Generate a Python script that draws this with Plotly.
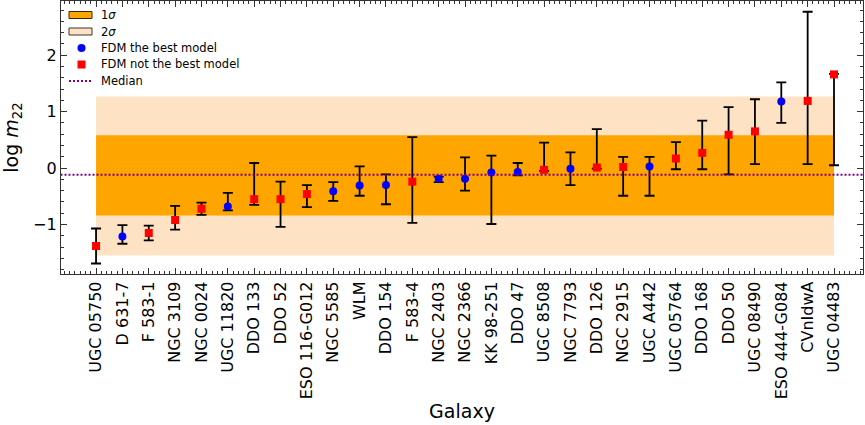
import plotly.graph_objects as go

galaxies = ["UGC 05750", "D 631-7", "F 583-1", "NGC 3109", "NGC 0024", "UGC 11820",
            "DDO 133", "DDO 52", "ESO 116-G012", "NGC 5585", "WLM", "DDO 154",
            "F 583-4", "NGC 2403", "NGC 2366", "KK 98-251", "DDO 47", "UGC 8508",
            "NGC 7793", "DDO 126", "NGC 2915", "UGC A442", "UGC 05764", "DDO 168",
            "DDO 50", "UGC 08490", "ESO 444-G084", "CVnIdwA", "UGC 04483"]
values = [-1.38, -1.21, -1.15, -0.92, -0.72, -0.68, -0.55, -0.55, -0.46, -0.41,
          -0.31, -0.30, -0.24, -0.19, -0.19, -0.08, -0.07, -0.03, -0.01, 0.01,
          0.02, 0.03, 0.17, 0.27, 0.59, 0.65, 1.18, 1.19, 1.66]
upper = [-1.07, -1.01, -1.02, -0.67, -0.61, -0.44, 0.09, -0.24, -0.30, -0.25,
         0.03, -0.11, 0.55, -0.15, 0.19, 0.22, 0.09, 0.45, 0.28, 0.69,
         0.20, 0.20, 0.46, 0.84, 1.08, 1.22, 1.52, 2.77, 1.67]
lower = [-1.69, -1.34, -1.28, -1.09, -0.83, -0.75, -0.65, -1.04, -0.69, -0.58,
         -0.49, -0.64, -0.97, -0.25, -0.40, -0.99, -0.13, -0.05, -0.30, -0.01,
         -0.49, -0.49, -0.02, -0.02, -0.11, 0.07, 0.80, 0.07, 0.05]
best = [False, True, False, False, False, True, False, False, False, True,
        True, True, False, True, True, True, True, False, True, False,
        False, True, False, False, False, False, True, False, False]

median = -0.12
sigma1 = [-0.84, 0.58]
sigma2 = [-1.55, 1.27]

legend_labels = ["1<i>σ</i>", "2<i>σ</i>", "FDM the best model", "FDM not the best model", "Median"]

ORANGE, PEACH, PURPLE = "#FFA500", "#FDE3C4", "purple"

fig = go.Figure()
x_idx = list(range(len(galaxies)))
x0, x1 = x_idx[0], x_idx[-1]

# bands
fig.add_trace(go.Scatter(x=[x0, x1, x1, x0, x0], y=[sigma2[0], sigma2[0], sigma2[1], sigma2[1], sigma2[0]],
                         fill="toself", fillcolor=PEACH, line=dict(width=0), mode="lines",
                         name=legend_labels[1], hoverinfo="skip"))
fig.add_trace(go.Scatter(x=[x0, x1, x1, x0, x0], y=[sigma1[0], sigma1[0], sigma1[1], sigma1[1], sigma1[0]],
                         fill="toself", fillcolor=ORANGE, line=dict(width=0), mode="lines",
                         name=legend_labels[0], hoverinfo="skip"))

def subset(flag):
    idx = [i for i in x_idx if best[i] == flag]
    return (idx, [values[i] for i in idx],
            [upper[i] - values[i] for i in idx],
            [values[i] - lower[i] for i in idx])

for flag, name, sym, col in [(True, legend_labels[2], "circle", "blue"),
                             (False, legend_labels[3], "square", "red")]:
    xi, yi, ep, em = subset(flag)
    fig.add_trace(go.Scatter(x=xi, y=yi, mode="markers", name=name,
                             marker=dict(symbol=sym, color=col, size=8),
                             error_y=dict(type="data", symmetric=False, array=ep, arrayminus=em,
                                          color="black", thickness=1.8, width=5)))

fig.add_trace(go.Scatter(x=[-1.5, 30.5], y=[median, median], mode="lines", name=legend_labels[4],
                         line=dict(color=PURPLE, width=2, dash="2px,2px")))

# ---- hand-drawn legend (matplotlib style), in plot-area pixel terms ----
PL, PR, PT, PB = 61, 863, 1, 274
def px(x):
    return (x - PL) / (PR - PL)
def py(y):
    return (PB - y) / (PB - PT)

rows_y = [15, 31.5, 48, 64.5, 81]
shapes = []
shapes.append(dict(type="rect", xref="paper", yref="paper", x0=px(69), x1=px(92), y0=py(rows_y[0] - 3.5),
                   y1=py(rows_y[0] + 3.5), fillcolor=ORANGE, line=dict(color="#3a2800", width=1)))
shapes.append(dict(type="rect", xref="paper", yref="paper", x0=px(69), x1=px(92), y0=py(rows_y[1] - 3.5),
                   y1=py(rows_y[1] + 3.5), fillcolor=PEACH, line=dict(color="#3a3430", width=1)))
shapes.append(dict(type="circle", xref="paper", yref="paper", x0=px(77.5), x1=px(85.5), y0=py(rows_y[2] - 4),
                   y1=py(rows_y[2] + 4), fillcolor="blue", line=dict(width=0)))
shapes.append(dict(type="rect", xref="paper", yref="paper", x0=px(77.5), x1=px(85.5), y0=py(rows_y[3] - 4),
                   y1=py(rows_y[3] + 4), fillcolor="red", line=dict(width=0)))
shapes.append(dict(type="line", xref="paper", yref="paper", x0=px(69), x1=px(92), y0=py(rows_y[4]),
                   y1=py(rows_y[4]), line=dict(color=PURPLE, width=2, dash="2px,2px")))
annotations = [dict(text=t, xref="paper", yref="paper", x=px(99), y=py(yy), xanchor="left",
                    yanchor="middle", showarrow=False, font=dict(size=11.5, color="black"))
               for t, yy in zip(legend_labels, rows_y)]

axis_common = dict(showline=True, linecolor="#333", linewidth=1.2, mirror="allticks",
                   ticks="inside", ticklen=6, tickcolor="#333", showgrid=False, zeroline=False)

fig.update_layout(
    width=865, height=425,
    margin=dict(l=61, r=2, t=1, b=151),
    paper_bgcolor="white", plot_bgcolor="white",
    font=dict(family="DejaVu Sans", size=16, color="black"),
    showlegend=False,
    shapes=shapes, annotations=annotations,
    xaxis=dict(range=[-1.33, 29.1], tickmode="array", tickvals=x_idx, ticktext=galaxies,
               tickangle=-90, minor=dict(dtick=0.2, ticks="inside", ticklen=3, tickcolor="#333"),
               title=dict(text="Galaxy", standoff=6), automargin=False, **axis_common),
    yaxis=dict(range=[-1.876, 2.96], tickvals=[-1, 0, 1, 2], ticktext=["\u22121", "0", "1", "2"],
               minor=dict(dtick=0.2, ticks="inside", ticklen=3, tickcolor="#333"),
               title=dict(text="log <i>m</i><sub>22</sub>", standoff=12), automargin=False,
               **axis_common),
)

fig.write_html("out.html")
